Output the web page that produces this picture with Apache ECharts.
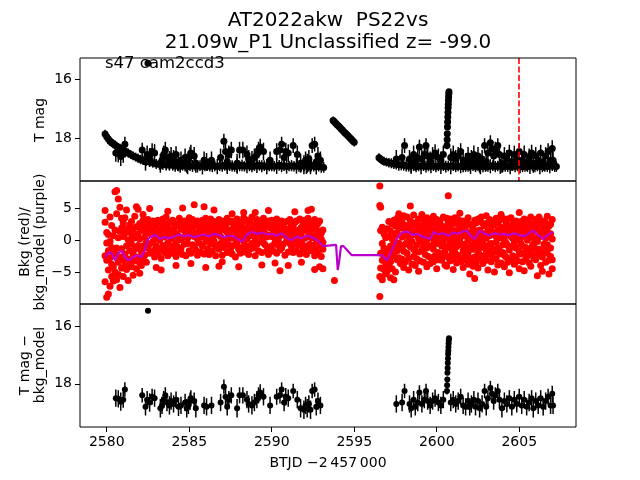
<!DOCTYPE html>
<html><head><meta charset="utf-8">
<script src="https://cdn.jsdelivr.net/npm/echarts@6/dist/echarts.min.js"></script>
<style>html,body{margin:0;padding:0;background:#fff}#c{width:640px;height:480px}</style>
</head><body><div id="c"></div>
<script>
// ---------- data ----------
const titleLines = ['AT2022akw  PS22vs', '21.09w_P1 Unclassified z= -99.0'];
const sectorText = 's47 cam2ccd3';
const xTicks = [2580, 2585, 2590, 2595, 2600, 2605];
const magTicks = [16, 18];
const bkgTicks = [-5, 0, 5];
const peakTime = 2605.0;

// top panel baseline light curve [t, mag, err]
const baseA = [
[2579.9,17.86,0.15],[2580.0,17.95,0.15],[2580.1,18.03,0.15],[2580.2,18.10,0.15],[2580.3,18.15,0.15],[2580.4,18.19,0.15],[2580.5,18.23,0.15],[2580.6,18.27,0.15],[2580.7,18.31,0.15],[2580.8,18.34,0.15],[2580.9,18.37,0.15],[2581.0,18.40,0.15],[2581.15,18.45,0.15],[2581.3,18.50,0.15],[2581.45,18.55,0.15],[2581.6,18.60,0.15],[2581.75,18.64,0.15],[2581.9,18.68,0.15],[2582.05,18.72,0.16],[2582.2,18.75,0.16],[2582.4,18.78,0.16],[2582.6,18.81,0.16],[2582.8,18.84,0.16],[2583.0,18.87,0.17],[2583.2,18.89,0.18],[2583.4,18.90,0.17],[2583.6,18.91,0.18],[2583.8,18.92,0.18],
[2584.0,18.92,0.18],[2584.15,18.94,0.2],[2584.3,18.93,0.18],[2584.45,18.95,0.22],[2584.6,18.92,0.18],[2584.75,18.94,0.19],[2584.9,18.96,0.26],[2585.05,18.93,0.18],[2585.2,18.94,0.2],[2585.35,18.92,0.18],[2585.5,18.95,0.21],[2585.65,18.93,0.18],[2585.8,18.96,0.27],[2585.95,18.94,0.18],[2586.1,18.92,0.19],[2586.25,18.95,0.18],[2586.4,18.93,0.22],[2586.55,18.94,0.18],[2586.7,18.96,0.26],[2586.85,18.93,0.18],[2587.0,18.94,0.2],[2587.15,18.92,0.18],[2587.3,18.95,0.26],[2587.45,18.93,0.18],[2587.6,18.94,0.19],[2587.75,18.96,0.18],[2587.9,18.93,0.27],[2588.05,18.94,0.18],[2588.2,18.92,0.2],[2588.35,18.95,0.18],[2588.5,18.93,0.26],[2588.65,18.94,0.18],[2588.8,18.96,0.19],[2588.95,18.93,0.18],[2589.1,18.94,0.24],[2589.25,18.92,0.18],[2589.4,18.95,0.2],[2589.55,18.93,0.18],[2589.7,18.96,0.26],[2589.85,18.94,0.18],[2590.0,18.93,0.19],[2590.15,18.95,0.18],[2590.3,18.94,0.27],[2590.45,18.92,0.18],[2590.6,18.95,0.2],[2590.75,18.93,0.18],[2590.9,18.96,0.24],[2591.05,18.94,0.18],[2591.2,18.93,0.19],[2591.35,18.95,0.18],[2591.5,18.94,0.26],[2591.65,18.96,0.18],[2591.8,18.93,0.2],[2591.95,18.95,0.18],[2592.1,18.94,0.27],[2592.25,18.96,0.18],[2592.4,18.93,0.19],[2592.55,18.95,0.18],[2592.7,18.97,0.26],[2592.85,18.95,0.18],[2593.0,18.97,0.2],[2593.15,18.99,0.18]
];
const baseB = [
[2593.72,17.40,0.14],[2593.8,17.44,0.14],[2593.88,17.49,0.14],[2593.96,17.54,0.14],[2594.04,17.58,0.14],[2594.12,17.63,0.14],[2594.2,17.68,0.14],[2594.28,17.72,0.14],[2594.36,17.77,0.14],[2594.44,17.82,0.14],[2594.52,17.86,0.14],[2594.6,17.91,0.14],[2594.68,17.95,0.14],[2594.76,18.00,0.14],[2594.84,18.04,0.14],[2594.92,18.09,0.14],[2595.0,18.14,0.14]
];
const baseC = [
[2596.5,18.66,0.15],[2596.6,18.71,0.15],[2596.7,18.75,0.15],[2596.8,18.78,0.15],[2596.95,18.81,0.15],[2597.1,18.83,0.16],[2597.25,18.85,0.17],[2597.4,18.87,0.17],[2597.55,18.88,0.18],[2597.7,18.90,0.2],[2597.85,18.91,0.18],[2598.0,18.92,0.18],
[2598.15,18.93,0.2],[2598.3,18.95,0.18],[2598.45,18.94,0.26],[2598.6,18.93,0.18],[2598.75,18.96,0.19],[2598.9,18.94,0.18],[2599.05,18.95,0.27],[2599.2,18.93,0.18],[2599.35,18.96,0.2],[2599.5,18.94,0.18],[2599.65,18.95,0.24],[2599.8,18.93,0.18],[2599.95,18.96,0.19],[2600.1,18.94,0.18],[2600.25,18.95,0.26],[2600.4,18.93,0.18],[2600.55,18.96,0.2],[2600.7,18.94,0.18],[2600.85,18.95,0.27],[2601.0,18.93,0.18],[2601.15,18.96,0.19],[2601.3,18.94,0.18],[2601.45,18.95,0.24],[2601.6,18.97,0.18],[2601.75,18.94,0.2],[2601.9,18.96,0.18],[2602.05,18.95,0.26],[2602.2,18.93,0.18],[2602.35,18.96,0.19],[2602.5,18.94,0.18],[2602.65,18.95,0.27],[2602.8,18.97,0.18],[2602.95,18.94,0.2],[2603.1,18.96,0.18],[2603.25,18.95,0.24],[2603.4,18.93,0.18],[2603.55,18.96,0.19],[2603.7,18.94,0.18],[2603.85,18.95,0.26],[2604.0,18.97,0.18],[2604.15,18.94,0.2],[2604.3,18.96,0.18],[2604.45,18.95,0.27],[2604.6,18.93,0.18],[2604.75,18.96,0.19],[2604.9,18.94,0.18],[2605.05,18.95,0.24],[2605.2,18.97,0.18],[2605.35,18.94,0.2],[2605.5,18.96,0.18],[2605.65,18.95,0.26],[2605.8,18.93,0.18],[2605.95,18.96,0.19],[2606.1,18.94,0.18],[2606.25,18.95,0.27],[2606.4,18.97,0.18],[2606.55,18.94,0.2],[2606.7,18.96,0.18],[2606.85,18.95,0.24],[2607.0,18.93,0.18],[2607.15,18.95,0.19],[2607.25,18.96,0.18]
];

// detections above the baseline [t, mag, err]
const det = [
[2580.55,18.50,0.3],[2580.7,18.52,0.3],[2580.85,18.62,0.32],[2581.0,18.55,0.28],[2581.1,18.20,0.25],
[2582.15,18.40,0.25],[2582.35,18.80,0.3],[2582.45,18.55,0.3],[2582.6,18.65,0.32],[2582.75,18.45,0.28],[2582.9,18.50,0.3],
[2583.25,18.85,0.32],[2583.35,18.75,0.3],[2583.45,18.55,0.3],[2583.55,18.40,0.28],[2583.65,18.65,0.3],[2583.8,18.75,0.32],[2583.9,18.60,0.3],
[2584.05,18.70,0.3],[2584.2,18.55,0.28],[2584.35,18.80,0.32],[2584.5,18.75,0.3],[2584.75,18.65,0.3],[2584.85,18.85,0.32],[2584.95,18.75,0.3],[2585.05,18.60,0.3],[2585.1,18.50,0.28],[2585.3,18.60,0.3],[2585.4,18.85,0.32],
[2585.9,18.75,0.3],[2586.05,18.80,0.3],[2586.35,18.75,0.3],[2586.9,18.65,0.3],[2587.1,18.10,0.25],[2587.2,18.45,0.28],[2587.3,18.80,0.3],[2587.4,18.55,0.3],[2587.55,18.40,0.28],[2587.9,18.85,0.32],
[2588.05,18.40,0.28],[2588.25,18.40,0.28],[2588.5,18.55,0.3],[2588.6,18.70,0.3],[2588.8,18.75,0.32],[2588.95,18.65,0.3],[2589.1,18.55,0.3],[2589.2,18.40,0.28],[2589.3,18.30,0.28],[2589.5,18.45,0.3],[2589.9,18.75,0.3],
[2590.3,18.45,0.28],[2590.5,18.40,0.28],[2590.6,18.20,0.25],[2590.75,18.65,0.3],[2590.85,18.45,0.3],[2591.0,18.50,0.3],[2591.3,18.25,0.25],[2591.55,18.55,0.3],[2591.75,18.85,0.32],[2591.95,18.90,0.32],
[2592.05,18.75,0.3],[2592.15,18.85,0.32],[2592.25,18.70,0.3],[2592.35,18.90,0.32],[2592.45,18.25,0.25],[2592.6,18.20,0.25],[2592.7,18.80,0.3],[2592.8,18.60,0.3],[2592.95,18.75,0.3],
[2597.55,18.70,0.3],[2597.9,18.65,0.3],[2598.05,18.25,0.25],[2598.35,18.70,0.3],[2598.45,18.85,0.32],[2598.6,18.55,0.3],[2598.7,18.80,0.3],[2598.85,18.65,0.3],[2598.95,18.30,0.25],[2599.1,18.70,0.3],[2599.25,18.55,0.3],[2599.35,18.25,0.25],[2599.45,18.60,0.3],[2599.6,18.75,0.3],[2599.75,18.60,0.3],[2599.9,18.50,0.3],[2600.1,18.65,0.3],[2600.25,18.75,0.3],[2600.4,18.55,0.3],
[2600.85,18.65,0.3],[2601.0,18.55,0.3],[2601.15,18.70,0.3],[2601.3,18.60,0.3],[2601.45,18.45,0.28],[2601.6,18.75,0.3],[2601.75,18.80,0.3],[2601.9,18.60,0.3],[2602.0,18.80,0.3],[2602.1,18.70,0.3],[2602.25,18.55,0.3],[2602.35,18.80,0.3],[2602.5,18.60,0.3],[2602.6,18.85,0.32],[2602.75,18.70,0.3],[2602.9,18.25,0.25],[2603.0,18.80,0.3],[2603.1,18.50,0.28],[2603.25,18.15,0.25],[2603.35,18.35,0.28],[2603.45,18.60,0.3],[2603.55,18.40,0.28],[2603.7,18.25,0.25],[2603.8,18.55,0.3],[2603.95,18.85,0.32],
[2604.1,18.60,0.3],[2604.25,18.70,0.3],[2604.4,18.50,0.28],[2604.55,18.80,0.3],[2604.7,18.55,0.3],[2604.85,18.70,0.3],[2605.0,18.45,0.28],[2605.15,18.75,0.3],[2605.3,18.55,0.3],[2605.45,18.80,0.3],[2605.6,18.65,0.3],[2605.75,18.50,0.28],[2605.85,18.85,0.32],[2606.0,18.60,0.3],[2606.15,18.75,0.3],[2606.3,18.50,0.28],[2606.45,18.80,0.3],[2606.6,18.60,0.3],[2606.75,18.45,0.28],[2606.9,18.75,0.3],[2607.0,18.35,0.28],[2607.05,18.75,0.3]
];
const spike = [
[2600.62,18.25,0.12],[2600.63,18.05,0.1],[2600.64,17.85,0.1],[2600.65,17.62,0.08],[2600.66,17.45,0.08],[2600.67,17.28,0.07],[2600.68,17.12,0.07],[2600.69,16.97,0.06],[2600.7,16.85,0.06],[2600.71,16.72,0.06],[2600.72,16.6,0.05],[2600.73,16.5,0.05],[2600.74,16.42,0.05]
];
const outlier = [[2582.5, 15.46]];

// background flux (red), rows: [t, values...]
const bkgA = [
[2579.9,4.6,2.8,-2.4,-6.4],[2580.0,-8.8,-3.1,-0.4,1.2],[2580.1,-8.3,-1.6,0.9,-4.6],[2580.2,-7.1,-2.7,3.6,-0.2],[2580.3,-5.6,-1.1,2.3,-3.7],[2580.4,-4.1,0.7,-6.3,-2.2],[2580.5,7.5,-2.0,1.6,-4.9],[2580.6,7.7,4.1,-1.2,-6.1],[2580.7,6.4,-3.4,0.4,-5.3],[2580.8,5.1,1.4,-2.6,-7.3],[2580.9,3.4,-1.3,1.9,-4.3],[2581.0,-3.0,0.6,-5.6,2.7],[2581.1,1.1,-2.1,-3.9,3.5],[2581.2,-4.5,-0.9,1.8,4.7],[2581.3,0.1,-2.9,1.4,-6.2],[2581.4,-1.6,2.4,-3.6,-0.5],[2581.5,2.9,-0.6,-4.1,1.0],[2581.6,-2.1,1.7,-5.4,0.3],[2581.7,0.4,-3.2,3.7,-1.4],[2581.8,-1.1,2.1,-4.4,5.2],[2581.9,1.0,-2.6,4.8,-0.8],[2582.0,-3.5,0.2,2.6,-5.1],[2582.1,1.5,-1.7,-3.9,2.2],[2582.2,3.1,-0.9,-2.9,4.0],[2582.3,0.5,2.0,-2.3,-1.0],[2582.4,2.8,-0.3,1.2,-3.4],
[2582.5,1.8,-1.2,3.2],[2582.6,-0.6,2.4,-2.0,4.9],[2582.7,0.9,-1.8,2.9],[2582.8,3.0,-0.2,1.3],[2582.9,-1.5,1.9,-2.6],[2583.0,2.2,0.4,-0.9,-4.2],[2583.1,-2.2,1.1,3.1],[2583.2,0.0,2.7,-1.4],[2583.3,1.6,-2.8,0.7,-4.6],[2583.4,3.3,-0.8,1.9],[2583.5,-1.9,0.5,2.5],[2583.6,1.2,-1.1,3.6],[2583.7,-0.4,2.1,-2.4,4.5],[2583.8,2.8,0.9,-1.6],[2583.9,-2.0,1.4,0.2],[2584.0,0.6,3.1,-0.9],[2584.1,1.9,-1.7,2.6],[2584.2,-0.3,1.0,-2.5,-3.9],[2584.3,2.4,-1.0,0.8],[2584.4,3.4,0.1,-1.8],[2584.5,-1.3,1.7,2.9],[2584.6,0.4,-2.2,2.2,5.0],[2584.7,1.5,-0.6,3.0],[2584.8,-2.4,0.9,1.8],[2584.9,2.7,-0.5,0.3],[2585.0,-1.6,1.3,3.5],[2585.1,0.8,-2.0,2.3,-3.6],[2585.2,1.9,3.2,-0.7],[2585.3,-0.9,0.6,2.6,5.5],[2585.4,2.3,-1.5,1.1],[2585.5,0.2,3.0,-2.3],[2585.6,1.4,-0.4,2.8],[2585.7,-1.8,1.9,0.5],[2585.8,3.1,-0.9,1.6],[2585.9,0.7,-2.1,2.4,5.2],[2586.0,-0.2,1.5,3.4,-4.2],[2586.1,2.0,-1.3,0.9],[2586.2,-2.2,0.3,2.7],[2586.3,1.2,3.3,-0.6],[2586.4,0.5,-1.7,2.1],[2586.5,2.9,-0.1,1.4,4.7],[2586.6,-1.0,1.8,-2.4],[2586.7,0.9,2.6,-0.8],[2586.8,3.2,-1.4,1.0,-4.0],[2586.9,-0.5,0.6,2.3],[2587.0,1.7,-2.3,3.0,-3.3],[2587.1,0.1,2.4,-1.1],[2587.2,2.1,-0.3,1.5],[2587.3,-1.9,1.2,3.4],[2587.4,0.8,2.8,-0.7],[2587.5,1.6,-1.5,0.3],[2587.6,3.0,0.5,-2.1,4.1],[2587.7,-0.8,1.9,2.5],[2587.8,1.3,-2.6,0.2],[2587.9,2.5,-0.4,3.3],[2588.0,-1.4,0.8,1.7,-4.1],[2588.1,0.4,2.2,-2.0],[2588.2,2.8,-1.1,1.0],[2588.3,-0.1,1.6,3.5,4.3],[2588.4,1.9,-1.8,0.6],[2588.5,3.1,0.2,-0.9],[2588.6,-2.2,1.4,2.6],[2588.7,0.7,2.9,-1.3],[2588.8,1.8,-0.5,3.6],[2588.9,-1.2,1.1,2.2],[2589.0,2.4,0.0,-2.4,4.3],[2589.1,0.9,3.2,-0.6],[2589.2,-1.6,1.7,2.0],[2589.3,2.7,-0.2,1.2],[2589.4,0.3,2.3,-1.9,-3.8],[2589.5,1.5,3.4,-0.4],[2589.6,-0.7,1.0,2.8],[2589.7,2.2,-1.6,0.5],[2589.8,3.0,0.8,-2.2,4.6],[2589.9,-1.1,1.9,2.5],[2590.0,0.6,-0.9,3.1],[2590.1,2.0,1.2,-1.7],[2590.2,-0.3,2.7,0.4,-3.5],[2590.3,1.4,-2.0,3.3],[2590.4,2.6,0.1,-0.8],[2590.5,-1.5,1.6,2.1,-4.7],[2590.6,0.8,3.0,-1.2],[2590.7,1.9,-0.6,2.4],[2590.8,-2.3,0.9,1.3],[2590.9,2.9,-0.1,0.6],[2591.0,0.2,1.8,-1.8,-3.9],[2591.1,1.1,3.2,-0.5],[2591.2,-1.0,0.7,2.5],[2591.3,2.3,-1.9,1.4],[2591.4,0.5,2.8,-0.3,4.4],[2591.5,-1.7,1.3,3.0],[2591.6,1.6,-0.8,0.1],[2591.7,3.3,0.9,-2.1],[2591.8,-0.4,2.0,1.2,-3.4],[2591.9,1.8,-1.4,2.7],[2592.0,0.3,3.1,-0.9],[2592.1,2.5,-2.2,1.5],[2592.2,-1.2,0.6,3.4,4.6],[2592.3,1.0,2.3,-0.6],[2592.4,2.9,-1.6,0.4,4.8],[2592.5,-0.8,1.7,2.1],[2592.6,0.7,-2.4,3.2,-4.5],[2592.7,2.2,0.0,-1.3],[2592.8,-1.9,1.4,2.6],[2592.9,0.9,-0.7,3.0,-4.1],[2593.0,-2.5,1.1,0.2],[2593.1,1.6,-1.4,-0.3,-4.4]
];
const bkgB = [[2593.8,-6.2]];
const bkgC = [
[2596.55,8.4,5.4,-5.6,-8.7],[2596.6,5.1,1.5,-2.0,-4.3],[2596.7,2.0,-3.1,-0.5,-6.1],[2596.8,-1.2,-4.5,1.0,-2.8],[2596.9,0.4,-3.6,-2.2,-5.2],[2597.0,-4.8,-1.5,1.8,-3.0],[2597.1,-2.6,0.6,-4.1,2.9],[2597.2,1.4,-3.3,-0.9,-5.8],[2597.3,-1.8,2.5,-4.4,0.2],[2597.4,3.1,-2.4,-0.2,-6.1],[2597.5,0.9,-1.1,2.2,-4.9],[2597.6,-3.0,3.4,1.2,-1.6],[2597.7,2.6,-0.4,-2.7,4.1],[2597.8,-1.3,1.9,3.3,-3.6],[2597.9,0.5,-2.9,2.8,-0.8],[2598.0,3.8,-1.7,0.9,-4.2],[2598.1,-0.6,2.3,-3.3,1.5],[2598.2,1.7,-2.0,3.6,-0.3],[2598.3,-2.8,0.4,2.0,-4.6],[2598.4,3.0,-1.0,1.1,5.3],[2598.5,-0.2,2.7,-3.7,0.8],[2598.6,1.9,-2.5,3.9,-1.4],[2598.7,-1.6,0.9,2.4,-3.9],[2598.8,2.8,-0.7,-2.9,1.6],[2598.9,0.3,3.3,-1.8,-4.8],[2599.0,-3.2,1.3,2.1,-0.1],[2599.1,2.2,-1.5,0.6,4.0],[2599.2,-0.9,3.1,-3.4,1.9],[2599.3,1.0,-2.2,2.7,-0.5],[2599.4,3.5,0.0,-1.2,-4.1],[2599.5,-2.5,1.8,0.7,3.0],[2599.6,0.6,-3.6,2.3,-1.0],[2599.7,2.9,-0.8,1.4,-2.7],[2599.8,-1.4,3.7,0.2,-3.3],[2599.9,1.6,-2.4,2.6,-0.4],[2600.0,-0.5,0.9,3.2,-4.4],[2600.1,2.4,-1.9,1.0,-3.0],[2600.2,-2.1,3.0,0.3,1.8],[2600.3,0.8,-3.1,2.2,-0.9],[2600.4,3.6,-0.3,1.3,-2.5],[2600.5,-1.7,2.1,-3.8,0.5],[2600.6,1.2,3.4,-1.1,-4.0],[2600.7,6.9,-2.6,0.4,2.8],[2600.8,-0.4,1.7,-3.2,3.3],[2600.9,2.5,-1.3,0.8,-2.2],[2601.0,-2.9,0.1,2.9,-4.5],[2601.1,1.5,-0.9,3.5,-1.9],[2601.2,-1.0,2.6,-3.5,0.6],[2601.3,3.2,-2.3,1.1,-0.2],[2601.4,0.2,1.9,-2.8,4.2],[2601.5,-3.3,2.3,-0.7,0.9],[2601.6,1.8,-1.6,3.0,-4.2],[2601.7,-0.6,0.7,-2.4,2.0],[2601.8,2.7,-3.0,1.4,-1.2],[2601.9,-1.9,3.5,0.0,-3.7],[2602.0,0.9,-2.7,2.5,-5.2],[2602.1,-3.5,1.2,-0.8,2.3],[2602.2,2.0,-1.4,-4.0,0.4],[2602.3,-0.2,3.1,-2.6,-5.9],[2602.4,1.4,-3.4,0.6,2.7],[2602.5,3.3,-0.9,-1.8,-4.3],[2602.6,-2.2,1.6,2.9,-0.3],[2602.7,0.5,-2.8,3.6,1.1],[2602.8,2.6,-1.1,-3.6,0.0],[2602.9,-0.9,2.2,1.0,-2.4],[2603.0,3.8,-3.1,0.3,-1.5],[2603.1,-1.6,1.4,2.7,-4.6],[2603.2,0.7,-2.2,3.2,-0.6],[2603.3,2.3,-0.5,-3.3,1.6],[2603.4,-2.7,3.0,0.9,-1.3],[2603.5,1.1,-1.8,2.4,-4.9],[2603.6,-0.3,3.4,-2.9,0.6],[2603.7,2.8,-1.2,1.5,-3.8],[2603.8,-1.5,0.4,3.1,-2.1],[2603.9,0.8,-3.5,2.0,4.0],[2604.0,3.4,-0.7,-1.9,1.2],[2604.1,-2.3,1.9,0.1,-4.1],[2604.2,1.6,-2.6,2.8,-0.4],[2604.3,-0.8,3.3,-3.4,0.9],[2604.4,2.1,-1.5,1.3,-5.0],[2604.5,-3.0,0.6,3.5,-1.0],[2604.6,0.3,2.5,-2.4,1.7],[2604.7,2.9,-0.4,-3.7,0.7],[2604.8,-1.2,1.8,3.0,-2.6],[2604.9,1.3,-3.2,0.2,2.3],[2605.0,4.3,-1.7,1.0,-4.4],[2605.1,-0.5,2.9,-2.1,0.4],[2605.2,2.4,-3.3,1.6,-0.9],[2605.3,-2.0,0.8,3.3,-4.7],[2605.4,1.0,-1.1,2.1,-2.9],[2605.5,3.1,-2.4,0.0,1.4],[2605.6,-1.4,1.5,-3.5,2.7],[2605.7,0.6,3.6,-1.6,-4.0],[2605.8,2.2,-0.8,1.1,-2.3],[2605.9,-2.8,0.3,2.6,-0.5],[2606.0,1.7,-3.0,3.2,-1.3],[2606.1,-0.2,2.0,-2.2,-5.5],[2606.2,2.7,-1.4,0.5,3.6],[2606.3,-1.8,1.2,-3.9,0.8],[2606.4,0.9,-2.6,2.4,-4.8],[2606.5,3.0,-0.6,-1.9,1.9],[2606.6,-1.1,2.7,0.3,-3.4],[2606.7,1.4,-2.0,3.7,-0.7],[2606.8,-3.1,0.7,2.2,-5.2],[2606.9,2.5,-1.2,1.0,-2.5],[2607.0,0.2,3.2,-3.0,-4.4]
];
// background model (purple)
const bkgModel = [
[2579.9,-2.6],[2580.1,-1.9],[2580.3,-2.0],[2580.5,-3.1],[2580.7,-2.0],[2580.9,-1.6],[2581.1,-2.6],[2581.3,-3.1],[2581.5,-2.8],[2581.8,-2.3],[2582.1,-2.6],[2582.3,-1.6],[2582.5,0.2],[2582.7,0.6],[2583.0,0.8],[2583.2,0.2],[2583.5,0.5],[2583.8,0.3],[2584.1,0.6],[2584.4,0.9],[2584.7,0.6],[2585.0,0.8],[2585.3,0.5],[2585.6,0.7],[2585.9,0.9],[2586.2,0.6],[2586.5,1.0],[2586.8,0.8],[2587.1,0.5],[2587.4,0.7],[2587.7,0.6],[2588.0,0.1],[2588.2,-0.2],[2588.5,0.9],[2588.8,1.3],[2589.1,1.0],[2589.4,1.2],[2589.7,0.9],[2590.0,1.0],[2590.3,0.7],[2590.6,1.1],[2590.9,0.4],[2591.2,0.0],[2591.5,0.6],[2591.8,0.3],[2592.1,0.7],[2592.4,0.5],[2592.7,0.1],[2592.9,-0.3],[2593.1,-0.9],[2593.9,-0.7],[2594.0,-4.6],[2594.1,-3.0],[2594.2,-0.9],[2594.35,-0.9],[2594.6,-1.6],[2594.85,-2.3],[2596.65,-2.3],[2596.8,-2.6],[2597.0,-3.1],[2597.2,-2.0],[2597.4,-0.9],[2597.6,0.3],[2597.8,1.0],[2598.0,1.3],[2598.3,1.3],[2598.5,0.8],[2598.8,1.0],[2599.1,0.6],[2599.4,0.4],[2599.6,0.2],[2599.8,1.3],[2600.1,0.9],[2600.4,1.1],[2600.7,0.7],[2601.0,1.2],[2601.3,1.0],[2601.6,1.4],[2601.8,1.5],[2602.1,0.6],[2602.3,0.2],[2602.6,1.5],[2602.9,1.0],[2603.2,0.8],[2603.5,1.1],[2603.8,0.9],[2604.1,1.0],[2604.4,0.8],[2604.7,1.1],[2605.0,0.8],[2605.3,0.6],[2605.6,1.1],[2605.85,1.5],[2606.1,0.9],[2606.45,0.2],[2606.7,0.8],[2607.05,1.3]
];

// ---------- axis ranges / layout ----------
const X_MIN = 2578.38, X_MAX = 2608.44;
const TOP_RANGE = [15.28, 19.45], MID_RANGE = [-9.85, 9.17], BOT_RANGE = [15.23, 19.50];
const FONT = 'DejaVu Sans';
const L = 80, W = 496, H = 123, TOPS = [58, 181, 304];

// ---------- build series data ----------
const baseAll = baseA.concat(baseB, baseC);
const detAll = det.concat(spike);
const toErr = arr => arr.map(d => [d[0], d[1] - d[2], d[1] + d[2]]);
const toXY = arr => arr.map(d => [d[0], d[1]]);
const flatRows = rows => { const out = []; rows.forEach(r => { for (let i = 1; i < r.length; i++) out.push([r[0], r[i]]); }); return out; };
const redPts = flatRows(bkgA).concat(flatRows(bkgB), flatRows(bkgC));

function errRender(params, api) {
  const p1 = api.coord([api.value(0), api.value(1)]);
  const p2 = api.coord([api.value(0), api.value(2)]);
  return { type: 'line', shape: { x1: p1[0], y1: p1[1], x2: p2[0], y2: p2[1] },
           style: { stroke: '#000', lineWidth: 1.5 } };
}
const minus = v => String(v).replace('-', '\u2212');

function xAxis(i, showLabels) {
  return { type: 'value', gridIndex: i, min: X_MIN, max: X_MAX,
    axisLine: { show: false }, splitLine: { show: false },
    axisTick: { show: showLabels, customValues: xTicks, length: 5, lineStyle: { color: '#000', width: 1 } },
    axisLabel: { show: showLabels, customValues: xTicks, color: '#000', fontSize: 14, fontFamily: FONT, margin: 8, formatter: v => String(v) } };
}
function yAxis(i, range, ticks, inverse) {
  return { type: 'value', gridIndex: i, min: range[0], max: range[1], inverse: inverse,
    axisLine: { show: false }, splitLine: { show: false },
    axisTick: { show: true, customValues: ticks, length: 5, lineStyle: { color: '#000', width: 1 } },
    axisLabel: { customValues: ticks, color: '#000', fontSize: 14, fontFamily: FONT, margin: 8, formatter: minus } };
}

const chart = echarts.init(document.getElementById('c'), null, { renderer: 'canvas' });
const txt = (text, x, y, extra) => Object.assign({ type: 'text', x: x, y: y,
  style: Object.assign({ text: text, fill: '#000', font: '14px "' + FONT + '"', textAlign: 'center', textVerticalAlign: 'middle' }, (extra || {})) });
const dot = (data, size, color, xi, z) => ({ type: 'scatter', xAxisIndex: xi, yAxisIndex: xi, data: data, symbolSize: size,
  itemStyle: { color: color, opacity: 1 }, clip: true, silent: true, progressive: 0, large: false, z: z });
const bars = (data, xi) => ({ type: 'custom', xAxisIndex: xi, yAxisIndex: xi, renderItem: errRender, data: data, clip: true, silent: true, progressive: 0, z: 2 });

const topDots = dot(toXY(baseAll).concat(toXY(detAll), outlier), 7, '#000', 0, 3);
topDots.markLine = { symbol: ['none', 'none'], silent: true, label: { show: false }, animation: false,
  lineStyle: { color: '#ff0000', type: [6, 2.5], width: 1.6 }, data: [{ xAxis: peakTime }] };

chart.setOption({
  animation: false,
  backgroundColor: '#fff',
  grid: TOPS.map(t => ({ left: L, top: t, width: W, height: H, show: true, borderColor: '#000', borderWidth: 1, backgroundColor: 'transparent', z: 10 })),
  xAxis: [xAxis(0, false), xAxis(1, false), xAxis(2, true)],
  yAxis: [yAxis(0, TOP_RANGE, magTicks, true), yAxis(1, MID_RANGE, bkgTicks, false), yAxis(2, BOT_RANGE, magTicks, true)],
  series: [
    bars(toErr(baseAll.concat(detAll)), 0),
    topDots,
    dot(redPts, 7, '#ff0000', 1, 2),
    { type: 'line', xAxisIndex: 1, yAxisIndex: 1, data: bkgModel, showSymbol: false, symbol: 'none',
      lineStyle: { color: '#bb00cc', width: 2.2 }, clip: true, silent: true, z: 4 },
    bars(toErr(detAll), 2),
    dot(toXY(detAll).concat(outlier), 6, '#000', 2, 3)
  ],
  graphic: [
    txt(titleLines[0], 328, 21, { font: '20px "' + FONT + '"' }),
    txt(titleLines[1], 328, 43, { font: '20px "' + FONT + '"' }),
    txt(sectorText, 105, 64, { textAlign: 'left', font: '16.5px "' + FONT + '"' }),
    txt('T mag', 40, 120, {}),
    txt('Bkg (red)/\nbkg_model (purple)', 33, 242, { lineHeight: 15 }),
    txt('T mag \u2212\nbkg_model', 33, 365, { lineHeight: 15 }),
    txt('BTJD \u22122\u2009457\u2009000', 328, 463, {})
  ].map((g, i) => { if (i >= 3 && i <= 5) g.rotation = Math.PI / 2; g.z = 100; return g; })
});
</script></body></html>
